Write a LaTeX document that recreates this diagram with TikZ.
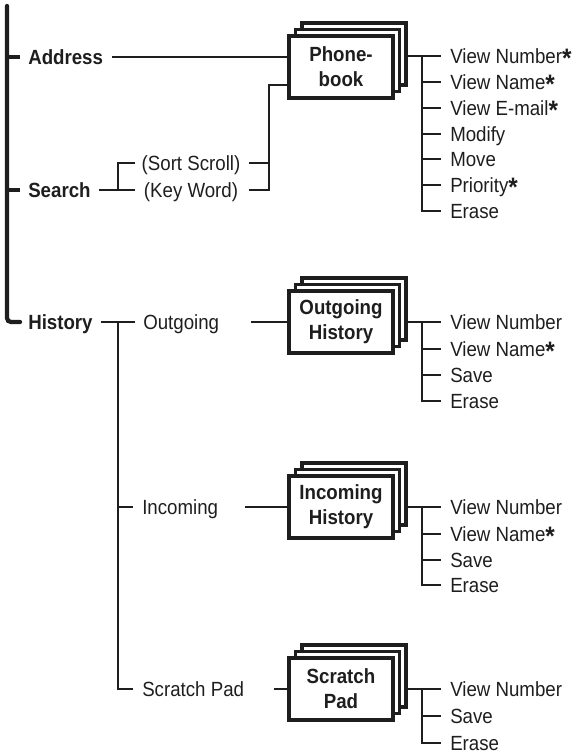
\documentclass[tikz,border=0pt]{standalone}
\usepackage{fontspec}
\setmainfont[FakeStretch=0.91]{Liberation Sans}
\usetikzlibrary{calc}
\definecolor{ink}{RGB}{30,30,30}
\newcommand\stackbox[4]{%
  \draw[boxline] ({#2-52+13},{#3-31-13}) rectangle ({#2+52+13},{#3+31-13});
  \draw[boxline] ({#2-52+6.5},{#3-31-6.5}) rectangle ({#2+52+6.5},{#3+31-6.5});
  \node[mainbox] (#1) at (#2,#3) {#4};}
\newcommand\myast{\raisebox{-3.3pt}{\scalebox{1.3}{\textbf{*}}}}
\begin{document}
\begin{tikzpicture}[x=0.75pt,y=-0.75pt,
  conn/.style={draw=ink,line width=1.6pt},
  bar/.style={draw=ink,line width=3.2pt},
  boxline/.style={draw=ink,line width=2.3pt,fill=white},
  mainbox/.style={boxline,minimum width=78pt,minimum height=46.5pt,inner sep=0pt,align=center,
    font=\fontsize{15.4}{18.8}\selectfont\bfseries,text=ink},
  lbl/.style={anchor=west,inner sep=0pt,text height=11pt,text depth=0pt,
    font=\fontsize{15.4}{17}\selectfont,text=ink},
  blbl/.style={lbl,font=\fontsize{15.4}{17}\selectfont\bfseries},
  clbl/.style={lbl,anchor=center}
]
\useasboundingbox (0,0) rectangle (579,753);

% ---- left column
\node[blbl] (addr) at (28,57) {Address};
\node[blbl] (search) at (28,190) {Search};
\node[blbl] (hist) at (28,322) {History};
\coordinate (top) at (7,6);
\draw[bar,line cap=round,rounded corners=3pt] (top) |- ($(hist.west)+(-8,0)$);
\draw[bar] (top |- addr.west) -- ($(addr.west)+(-8,0)$);
\draw[bar] (top |- search.west) -- ($(search.west)+(-8,0)$);

% ---- phonebook
\stackbox{pb}{341}{67}{Phone-\\book}
\draw[conn] ($(addr.east)+(9,0)$) -- (pb.west |- addr.west);

% search branch
\node[clbl] (ss) at (191,163) {(Sort Scroll)};
\node[clbl] (kw) at (191,190) {(Key Word)};
\coordinate (sA) at (135,163);
\coordinate (sB) at (135,190);
\coordinate (sJ) at (118,190);
\coordinate (sC) at (249,163);
\coordinate (sD) at (249,190);
\coordinate (sV) at (269,85);
\draw[conn] ($(search.east)+(8,0)$) -- (sB);
\draw[conn] (sJ) |- (sA);
\draw[conn] (sC) -- (sC -| sV);
\draw[conn] (sD) -| (sV) -- (pb.west |- sV);

% phonebook list
\node[lbl] (p1) at (450,56) {View Number\myast};
\node[lbl] (p2) at (450,82) {View Name\myast};
\node[lbl] (p3) at (450,108) {View E-mail\myast};
\node[lbl] (p4) at (450,134) {Modify};
\node[lbl] (p5) at (450,159) {Move};
\node[lbl] (p6) at (450,185) {Priority\myast};
\node[lbl] (p7) at (450,211) {Erase};
\coordinate (pR) at (405,56);
\coordinate (pV) at (422,56);
\draw[conn] (pR) -- ($(p1.west)+(-9,0)$);
\draw[conn] (pV) |- ($(p7.west)+(-9,0)$);
\foreach \i in {2,...,6} {\draw[conn] (pV |- p\i.west) -- ($(p\i.west)+(-9,0)$);}

% ---- history branch
\node[lbl] (out) at (143,322) {Outgoing};
\node[lbl] (inc) at (142,507) {Incoming};
\node[lbl] (scr) at (142,689) {Scratch Pad};
\coordinate (hJ) at (118,322);
\draw[conn] ($(hist.east)+(8,0)$) -- ($(out.west)+(-8,0)$);
\draw[conn] (hJ) |- ($(scr.west)+(-9,0)$);
\draw[conn] (hJ |- inc.west) -- ($(inc.west)+(-9,0)$);

\stackbox{og}{341}{322}{Outgoing\\History}
\stackbox{ic}{341}{507}{Incoming\\History}
\stackbox{sp}{341}{689}{Scratch\\Pad}
\draw[conn] (251,322) -- (og.west);
\draw[conn] (245,507) -- (ic.west);
\draw[conn] (274,689) -- (sp.west);

% outgoing list
\node[lbl] (o1) at (450,322) {View Number};
\node[lbl] (o2) at (450,349) {View Name\myast};
\node[lbl] (o3) at (450,375) {Save};
\node[lbl] (o4) at (450,401) {Erase};
\coordinate (oR) at (405,322);
\coordinate (oV) at (422,322);
\draw[conn] (oR) -- ($(o1.west)+(-9,0)$);
\draw[conn] (oV) |- ($(o4.west)+(-9,0)$);
\foreach \i in {2,3} {\draw[conn] (oV |- o\i.west) -- ($(o\i.west)+(-9,0)$);}

% incoming list
\node[lbl] (i1) at (450,507) {View Number};
\node[lbl] (i2) at (450,534) {View Name\myast};
\node[lbl] (i3) at (450,560) {Save};
\node[lbl] (i4) at (450,585) {Erase};
\coordinate (iR) at (405,507);
\coordinate (iV) at (422,507);
\draw[conn] (iR) -- ($(i1.west)+(-9,0)$);
\draw[conn] (iV) |- ($(i4.west)+(-9,0)$);
\foreach \i in {2,3} {\draw[conn] (iV |- i\i.west) -- ($(i\i.west)+(-9,0)$);}

% scratch list
\node[lbl] (s1) at (450,689) {View Number};
\node[lbl] (s2) at (450,716) {Save};
\node[lbl] (s3) at (450,743) {Erase};
\coordinate (sR) at (405,689);
\coordinate (sW) at (422,689);
\draw[conn] (sR) -- ($(s1.west)+(-9,0)$);
\draw[conn] (sW) |- ($(s3.west)+(-9,0)$);
\draw[conn] (sW |- s2.west) -- ($(s2.west)+(-9,0)$);
\end{tikzpicture}
\end{document}
